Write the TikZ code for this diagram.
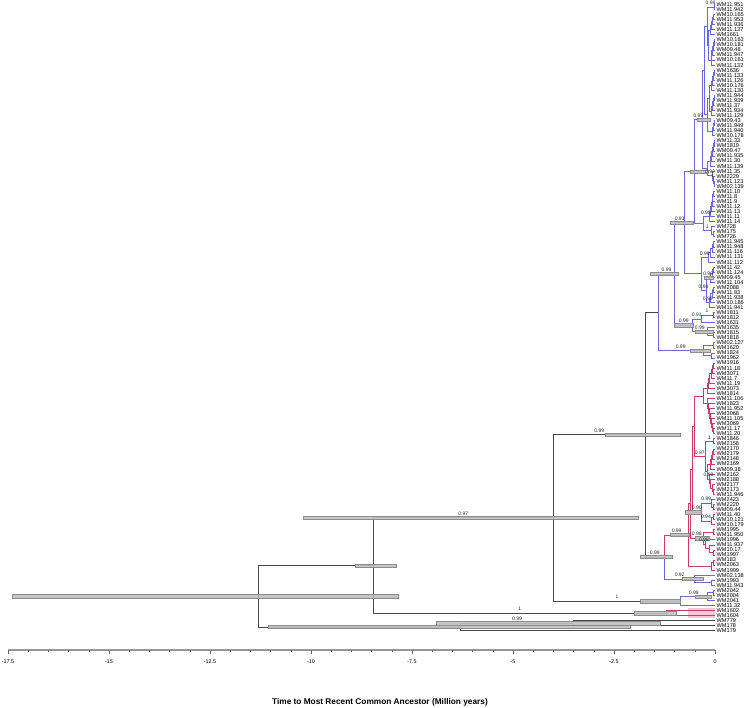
\documentclass[tikz,border=0pt]{standalone}
\usepackage{fontspec}
\setmainfont{Liberation Sans}
\usetikzlibrary{calc}

\definecolor{cblue}{RGB}{105,105,230}
\definecolor{cred}{RGB}{205,60,105}
\definecolor{cgray}{RGB}{70,70,70}
\definecolor{barfill}{RGB}{192,192,192}
\definecolor{barline}{RGB}{140,140,140}
\definecolor{pkfill}{RGB}{242,200,212}
\definecolor{axisc}{RGB}{150,150,150}

% time (Myr) -> x
\newcommand\xof[1]{(715+40.4*(#1))*1pt}
% internal node: [colour]{name}{time}{child1}{child2}
\newcommand\inode[5][cblue]{%
  \path let \p1=($(#4)!0.5!(#5)$) in coordinate (#2) at ({\xof{#3}},\y1);
  \draw[br,#1] (#4) -| (#2) |- (#5);}
% internal node, one colour per child
\newcommand\inodex[6]{%
  \path let \p1=($(#3)!0.5!(#4)$) in coordinate (#1) at ({\xof{#2}},\y1);
  \draw[br,#5] (#1) |- (#3);
  \draw[br,#6] (#1) |- (#4);}
% ladder, root near the top tip
\newcommand\combdn[6][cblue]{%
  \coordinate (#2-#4) at (t#4);
  \pgfmathtruncatemacro\cmbl{#4-1}%
  \pgfmathtruncatemacro\cmbd{max(1,#4-1-#3)}%
  \foreach \j in {#3,...,\cmbl}{%
    \pgfmathtruncatemacro\k{#3+\cmbl-\j}%
    \pgfmathtruncatemacro\kk{\k+1}%
    \pgfmathsetmacro\ctm{(#5)+((#6)-(#5))*(\k-#3)/\cmbd}%
    \inode[#1]{#2-\k}{\ctm}{t\k}{#2-\kk}}%
  \coordinate (#2) at (#2-#3);}
% ladder, root near the bottom tip
\newcommand\combup[6][cblue]{%
  \coordinate (#2-#3) at (t#3);
  \pgfmathtruncatemacro\cmbf{#3+1}%
  \pgfmathtruncatemacro\cmbd{max(1,#4-1-#3)}%
  \foreach \k in {\cmbf,...,#4}{%
    \pgfmathtruncatemacro\kp{\k-1}%
    \pgfmathsetmacro\ctm{(#5)+((#6)-(#5))*(#4-\k)/\cmbd}%
    \inode[#1]{#2-\k}{\ctm}{#2-\kp}{t\k}}%
  \coordinate (#2) at (#2-#4);}
% 95% HPD bar
\newcommand\hpdbar[3]{%
  \draw[hpd] let \p1=(#1) in ({\xof{#2}},{\y1-1.7pt}) rectangle ({\xof{#3}},{\y1+1.7pt});}
% posterior over the middle of a branch
\newcommand\post[3]{%
  \path let \p1=(#1), \p2=(#2) in node[postlab] at ({0.5*\x1+0.5*\x2},{\y1+2pt}) {#3};}

\begin{document}
\begin{tikzpicture}[
  x=1pt, y=-1pt,
  br/.style={line width=0.7pt},
  hpd/.style={fill=barfill, draw=barline, line width=0.4pt, fill opacity=0.9},
  postlab/.style={anchor=south, inner sep=0pt, font=\fontsize{5}{5}\selectfont, text=black!85},
  tiplab/.style={anchor=west, inner sep=0pt, xshift=1.5pt, font=\fontsize{5.6}{5.6}\selectfont},
  ticklab/.style={inner sep=0pt, font=\fontsize{5.4}{5.4}\selectfont},
]
\useasboundingbox (0,0) rectangle (750,708);

% tips
\foreach \lab [count=\i] in {WM11.951, WM11.942, WM10.165, WM11.953, WM11.936, WM11.137,
  WM1661, WM10.163, WM10.181, WM09.48, WM11.947, WM10.161, WM11.132, WM1636, WM11.133,
  WM11.126, WM10.176, WM11.130, WM11.944, WM11.939, WM11.37, WM11.934, WM11.129, WM09.43,
  WM11.949, WM11.940, WM10.178, WM11.33, WM1819, WM09.47, WM11.935, WM11.30, WM11.139,
  WM11.35, WM2229, WM11.123, WM02.139, WM11.10, WM11.8, WM11.9, WM11.12, WM11.13, WM11.11,
  WM11.14, WM728, WM175, WM726, WM11.945, WM11.948, WM11.116, WM11.131, WM11.112, WM11.42,
  WM11.124, WM09.45, WM11.104, WM2088, WM11.83, WM11.938, WM10.186, WM11.941, WM1811,
  WM1812, WM1631, WM1635, WM1815, WM1818, WM02.127, WM1620, WM1824, WM1962, WM1916,
  WM11.18, WM3071, WM11.7, WM11.19, WM3073, WM1814, WM11.106, WM1823, WM11.952, WM3068,
  WM11.105, WM3069, WM11.17, WM11.20, WM1846, WM2158, WM2170, WM2179, WM2148, WM2169,
  WM09.38, WM2162, WM2188, WM2177, WM2173, WM11.946, WM2423, WM2220, WM09.44, WM11.40,
  WM10.121, WM10.179, WM1995, WM11.950, WM1996, WM11.937, WM10.17, WM1997, WM183, WM2063,
  WM1999, WM02.138, WM1993, WM11.943, WM2042, WM2004, WM2041, WM11.32, WM1602, WM1604,
  WM779, WM178, WM179}{
  \coordinate (t\i) at (715,{4.5+5.05*(\i-1)});
  \node[tiplab] (lab\i) at (t\i) {\lab};
}

% pink clade box
\fill[pkfill] (688,608) rectangle (715,618);

% blue clade
\inode{a1}{-0.02}{t1}{t2}
\combup{a2}{3}{7}{-0.12}{-0.03}
\combup{a3}{8}{13}{-0.1}{-0.02}
\inode{a4}{-0.16}{a2}{a3}
\inode{a5}{-0.2}{a1}{a4}
\combup{b1}{14}{18}{-0.08}{-0.02}
\combup{b2}{19}{23}{-0.09}{-0.02}
\inode{b3}{-0.14}{b1}{b2}
\combup{b4}{24}{27}{-0.07}{-0.02}
\inode{b5}{-0.2}{b3}{b4}
\inode{a6}{-0.27}{a5}{b5}
\combup{c1}{28}{33}{-0.12}{-0.02}
\combdn{c2}{34}{37}{-0.07}{-0.02}
\inode{c3}{-0.18}{c1}{c2}
\inode{c4}{-0.32}{a6}{c3}
\combup{d1}{38}{44}{-0.15}{-0.03}
\combdn{d2}{45}{47}{-0.08}{-0.03}
\inode{d3}{-0.3}{d1}{d2}
\inode{d4}{-0.5}{c4}{d3}
\combup{e1}{48}{52}{-0.16}{-0.03}
\combup{e2}{53}{56}{-0.12}{-0.03}
\combup{e3}{57}{61}{-0.14}{-0.03}
\inode{e4}{-0.22}{e2}{e3}
\inode{e5}{-0.35}{e1}{e4}
\inode{f1}{-0.75}{d4}{e5}
\inode[cred]{g1}{-0.05}{t62}{t63}
\inodex{g2}{-0.35}{g1}{t64}{cred}{cblue}
\combdn{g3}{65}{67}{-0.2}{-0.05}
\inode{g4}{-0.55}{g2}{g3}
\inode{f2}{-1.0}{f1}{g4}
\inode{h1}{-0.05}{t68}{t69}
\inode{h2}{-0.08}{t70}{t71}
\inode{h3}{-0.3}{h1}{h2}
\inode{f3}{-1.4}{f2}{h3}

% red clade
\combup[cred]{r1a}{72}{78}{-0.2}{-0.03}
\combdn[cred]{r1b}{79}{86}{-0.18}{-0.03}
\inode[cred]{r1}{-0.28}{r1a}{r1b}
\inode[cred]{r2a}{-0.03}{t87}{t88}
\combup[cred]{r2b}{89}{93}{-0.12}{-0.03}
\combdn[cred]{r2c}{94}{98}{-0.14}{-0.04}
\inode[cred]{r2d}{-0.18}{r2b}{r2c}
\inode[cred]{r2}{-0.25}{r2a}{r2d}
\combdn[cred]{r3a}{99}{101}{-0.08}{-0.03}
\combup[cred]{r3b}{102}{104}{-0.1}{-0.03}
\inode[cred]{r3}{-0.35}{r3a}{r3b}
\inode[cred]{r4a}{-0.04}{t105}{t106}
\combdn[cred]{r4b}{107}{110}{-0.25}{-0.05}
\inode[cred]{r4}{-0.3}{r4a}{r4b}
\inode[cred]{r5a}{-0.05}{t111}{t112}
\inode[cred]{r5}{-0.1}{r5a}{t113}
\inode[cred]{q1}{-0.5}{r1}{r2}
\inode[cred]{q2}{-0.55}{q1}{r3}
\inode[cred]{q3}{-0.6}{q2}{r4}
\inode[cred]{rd}{-0.65}{q3}{r5}

% small blue clades
\inode{fa}{-0.1}{t115}{t116}
\inode{ff}{-0.5}{t114}{fa}
\inodex{cc}{-1.25}{rd}{ff}{cred}{cblue}
\inode{ea}{-0.05}{t117}{t118}
\inode{eb}{-0.2}{ea}{t119}
\inode{ee}{-0.85}{eb}{t120}

% backbone
\inode[cgray]{aa}{-1.73}{f3}{cc}
\inode[cgray]{n2}{-4.0}{aa}{ee}
\inode[cred]{pk}{-1.2}{t121}{t122}
\inode[cgray]{n1}{-8.46}{n2}{pk}
\inode[cgray]{l1}{-3.5}{t123}{t124}
\inode[cgray]{ll}{-6.3}{l1}{t125}
\inode[cgray]{rt}{-11.3}{n1}{ll}

% HPD bars
\hpdbar{rt}{-17.4}{-7.85}
\hpdbar{n1}{-8.9}{-7.9}
\hpdbar{n2}{-10.2}{-1.9}
\hpdbar{ll}{-11.06}{-2.1}
\hpdbar{l1}{-6.9}{-1.35}
\hpdbar{pk}{-2.0}{-0.95}
\hpdbar{aa}{-2.72}{-0.87}
\hpdbar{ee}{-1.86}{-0.85}
\hpdbar{eb}{-0.5}{-0.1}
\hpdbar{cc}{-1.86}{-1.05}
\hpdbar{ff}{-0.8}{-0.3}
\hpdbar{rd}{-1.1}{-0.65}
\hpdbar{r4}{-0.5}{-0.15}
\hpdbar{r3}{-0.75}{-0.35}
\hpdbar{f2}{-1.6}{-0.9}
\hpdbar{f1}{-1.1}{-0.55}
\hpdbar{g4}{-1.0}{-0.55}
\hpdbar{g3}{-0.5}{-0.05}
\hpdbar{h3}{-0.62}{-0.12}
\hpdbar{d4}{-0.62}{-0.18}
\hpdbar{c4}{-0.45}{-0.12}
\hpdbar{e2}{-0.27}{-0.05}

% posteriors
\post{n2}{n1}{0.97}
\post{aa}{n2}{0.99}
\post{ee}{n2}{1}
\post{eb}{ee}{0.99}
\post{pk}{n1}{1}
\post{l1}{ll}{0.99}
\post{cc}{aa}{0.99}
\post{ff}{cc}{0.92}
\post{rd}{cc}{0.99}
\post{r4}{q3}{0.98}
\post{r4b}{r4}{0.98}
\post{r3}{q2}{0.90}
\post{r3b}{r3}{0.94}
\post{r3a}{r3}{0.99}
\post{r2}{q1}{0.97}
\post{r2c}{r2d}{0.99}
\post{r2a}{r2}{1}
\post{f2}{f3}{0.99}
\post{f1}{f2}{0.93}
\post{g4}{f2}{0.99}
\post{g2}{g4}{0.91}
\post{g1}{g2}{1}
\post{g3}{g4}{0.99}
\post{h3}{f3}{0.99}
\post{e1}{e5}{0.99}
\post{e2}{e4}{0.90}
\post{e4}{e5}{0.94}
\post{e3}{e4}{0.99}
\post{d1}{d3}{0.98}
\post{d2}{d3}{1}
\post{c4}{d4}{0.99}
\post{c2}{c3}{0.92}
\post{c2-35}{c2-34}{1}
\post{a1}{a5}{0.98}

% time axis
\draw[axisc, line width=1.2pt] (8.3,650) -- (715,650);
\foreach \k in {0,...,35}{
  \pgfmathsetmacro\tl{ifthenelse(mod(\k,5)==0,3.5,2)}
  \draw[axisc!70!black, line width=0.5pt] (715-20.2*\k,650) -- ++(0,\tl);
}
\foreach \v/\s [count=\n] in {0/0, 2.5/-2.5, 5/-5, 7.5/-7.5, 10/-10, 12.5/-12.5, 15/-15, 17.5/-17.5}
  \node[ticklab] (tk\n) at (715-40.4*\v,662) {\s};
\node[font=\bfseries\fontsize{8.3}{9}\selectfont, inner sep=0pt] (title) at (380,702)
  {Time to Most Recent Common Ancestor (Million years)};

\end{tikzpicture}
\end{document}
